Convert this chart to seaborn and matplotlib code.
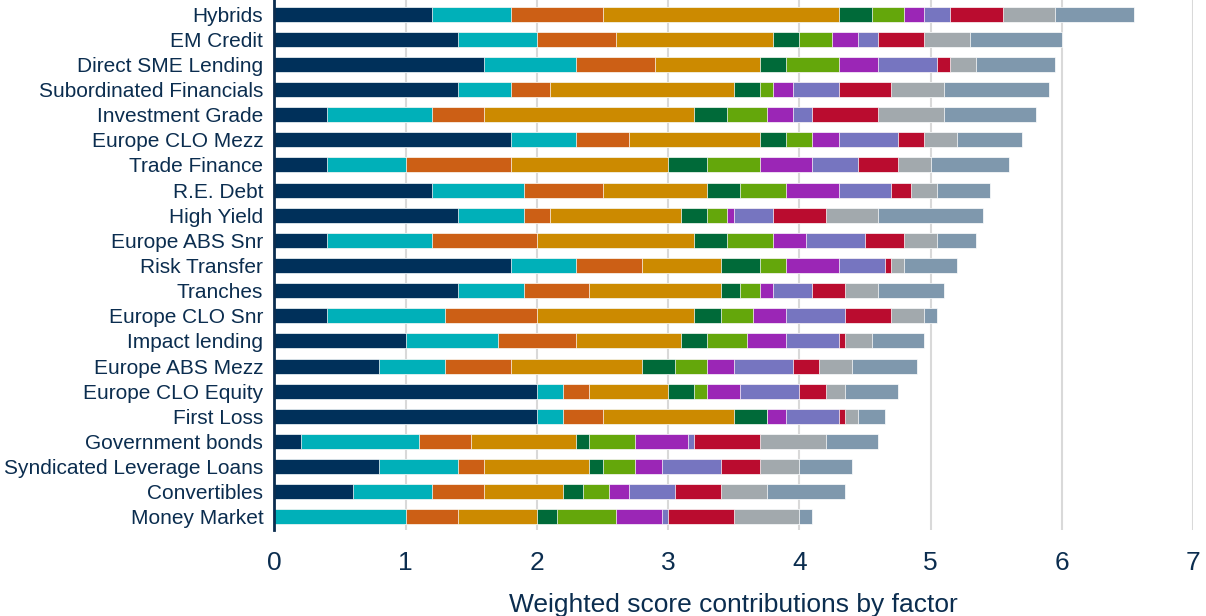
import matplotlib
matplotlib.use("Agg")
import matplotlib.pyplot as plt
import numpy as np
import seaborn as sns

# Asset classes, top to bottom
categories = [
    "Hybrids", "EM Credit", "Direct SME Lending", "Subordinated Financials",
    "Investment Grade", "Europe CLO Mezz", "Trade Finance", "R.E. Debt",
    "High Yield", "Europe ABS Snr", "Risk Transfer", "Tranches",
    "Europe CLO Snr", "Impact lending", "Europe ABS Mezz", "Europe CLO Equity",
    "First Loss", "Government bonds", "Syndicated Leverage Loans",
    "Convertibles", "Money Market",
]

# Weighted score contribution of each factor (one list per factor, same order as categories)
factor_01 = [1.2, 1.4, 1.6, 1.4, 0.4, 1.8, 0.4, 1.2, 1.4, 0.4, 1.8, 1.4, 0.4, 1.0, 0.8, 2.0, 2.0, 0.2, 0.8, 0.6, 0.0]
factor_02 = [0.6, 0.6, 0.7, 0.4, 0.8, 0.5, 0.6, 0.7, 0.5, 0.8, 0.5, 0.5, 0.9, 0.7, 0.5, 0.2, 0.2, 0.9, 0.6, 0.6, 1.0]
factor_03 = [0.7, 0.6, 0.6, 0.3, 0.4, 0.4, 0.8, 0.6, 0.2, 0.8, 0.5, 0.5, 0.7, 0.6, 0.5, 0.2, 0.3, 0.4, 0.2, 0.4, 0.4]
factor_04 = [1.8, 1.2, 0.8, 1.4, 1.6, 1.0, 1.2, 0.8, 1.0, 1.2, 0.6, 1.0, 1.2, 0.8, 1.0, 0.6, 1.0, 0.8, 0.8, 0.6, 0.6]
factor_05 = [0.25, 0.2, 0.2, 0.2, 0.25, 0.2, 0.3, 0.25, 0.2, 0.25, 0.3, 0.15, 0.2, 0.2, 0.25, 0.2, 0.25, 0.1, 0.1, 0.15, 0.15]
factor_06 = [0.25, 0.25, 0.4, 0.1, 0.3, 0.2, 0.4, 0.35, 0.15, 0.35, 0.2, 0.15, 0.25, 0.3, 0.25, 0.1, 0.0, 0.35, 0.25, 0.2, 0.45]
factor_07 = [0.15, 0.2, 0.3, 0.15, 0.2, 0.2, 0.4, 0.4, 0.05, 0.25, 0.4, 0.1, 0.25, 0.3, 0.2, 0.25, 0.15, 0.4, 0.2, 0.15, 0.35]
factor_08 = [0.2, 0.15, 0.45, 0.35, 0.15, 0.45, 0.35, 0.4, 0.3, 0.45, 0.35, 0.3, 0.45, 0.4, 0.45, 0.45, 0.4, 0.05, 0.45, 0.35, 0.05]
factor_09 = [0.4, 0.35, 0.1, 0.4, 0.5, 0.2, 0.3, 0.15, 0.4, 0.3, 0.05, 0.25, 0.35, 0.05, 0.2, 0.2, 0.05, 0.5, 0.3, 0.35, 0.5]
factor_10 = [0.4, 0.35, 0.2, 0.4, 0.5, 0.25, 0.25, 0.2, 0.4, 0.25, 0.1, 0.25, 0.25, 0.2, 0.25, 0.15, 0.1, 0.5, 0.3, 0.35, 0.5]
factor_11 = [0.6, 0.7, 0.6, 0.8, 0.7, 0.5, 0.6, 0.4, 0.8, 0.3, 0.4, 0.5, 0.1, 0.4, 0.5, 0.4, 0.2, 0.4, 0.4, 0.6, 0.1]

factors = [factor_01, factor_02, factor_03, factor_04, factor_05, factor_06,
           factor_07, factor_08, factor_09, factor_10, factor_11]

colors = ["#00305A", "#00B0B9", "#CC5F15", "#CC8A00", "#006A39", "#64A70B",
          "#9B26B6", "#7675C0", "#BA0C2F", "#A2A9AD", "#7F98AD"]

x_ticks = [0, 1, 2, 3, 4, 5, 6, 7]
x_label = "Weighted score contributions by factor"

navy = "#0B2D4F"

sns.set_theme(style="white")
plt.rcParams["font.family"] = ["Liberation Sans", "DejaVu Sans"]

fig = plt.figure(figsize=(12.06, 6.16), dpi=100)
ax = fig.add_axes([0.2276, 0.1396, 0.9892 - 0.2276, 1.0 - 0.1396])

# Stacked bars: draw running totals from the longest layer down so each
# shorter layer sits on top of the previous one.
cumulative = np.cumsum(np.array(factors), axis=0)
for k in range(len(factors) - 1, -1, -1):
    sns.barplot(x=cumulative[k], y=categories, order=categories, orient="h",
                color=colors[k], saturation=1, width=0.6,
                edgecolor="white", linewidth=0.5, ax=ax)

ax.set_xlim(0, 7)
ax.set_ylim(len(categories) - 1 + 0.52, -0.56)
ax.set_xticks(x_ticks)
ax.set_xticklabels([str(t) for t in x_ticks])

ax.set_axisbelow(True)
ax.xaxis.grid(True, color="#D9D9D9", linewidth=1.5)
ax.yaxis.grid(False)

for side in ["top", "right", "bottom"]:
    ax.spines[side].set_visible(False)
ax.spines["left"].set_color(navy)
ax.spines["left"].set_linewidth(2)

ax.tick_params(axis="x", length=0, pad=15, labelsize=19, labelcolor=navy)
ax.tick_params(axis="y", length=0, pad=8, labelsize=15, labelcolor=navy)

ax.set_ylabel("")
ax.set_xlabel(x_label, fontsize=19, color=navy, labelpad=13)

fig.savefig("out.png", dpi=100)
